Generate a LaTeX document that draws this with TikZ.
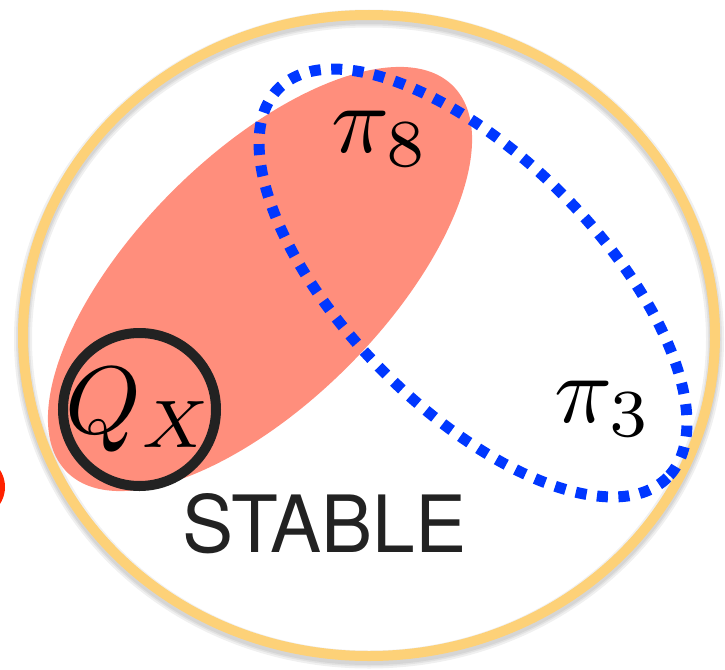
\documentclass[tikz,border=0pt]{standalone}
\usepackage{fontspec}
\newfontfamily\stablefont{TeX Gyre Heros}
\definecolor{ringgold}{RGB}{253,209,120}
\definecolor{setsalmon}{RGB}{255,142,124}
\definecolor{setblue}{RGB}{0,55,255}
\definecolor{inkgray}{RGB}{34,34,34}
\definecolor{dotred}{RGB}{255,34,0}
\tikzstyle{ring} = [draw=ringgold, line width=10pt]
\tikzstyle{ringshadow} = [draw=black, opacity=0.06]
\tikzstyle{redset} = [fill=setsalmon]
\tikzstyle{blueset} = [draw=setblue, line width=11pt, dash pattern=on 11pt off 10.5pt]
\tikzstyle{qring} = [draw=inkgray, line width=10pt]
\tikzstyle{mathtag} = [inner sep=0pt, anchor=base west, scale=9.6]

\begin{document}
\begin{tikzpicture}[x=1pt, y=-1pt]
    \useasboundingbox (0,0) rectangle (725,669);
    % outer set with soft shadow
    \foreach \w in {18,14,11}
        \draw[ringshadow, line width=\w pt] (369,339) ellipse [x radius=346, y radius=320.5];
    \draw[ring] (369,335.5) ellipse [x radius=346, y radius=320.5];
    % the two sets
    \fill[redset, shift={(260,279)}, rotate=45] (0,0) ellipse [x radius=273, y radius=124];
    \draw[blueset, shift={(473,283)}, rotate=-45] (0,0) ellipse [x radius=275, y radius=126];
    \draw[qring] (139.5,409.5) circle [radius=76.5];
    % labels
    \node[mathtag] (pi8) at (330,152) {$\pi_8$};
    \node[mathtag] (pi3) at (553,422) {$\pi_3$};
    \node[mathtag] (qx) at (64,433) {$Q_X$};
    \node[inner sep=0pt, anchor=base west, text=inkgray, xscale=0.97,
      font=\fontsize{79}{79}\stablefont] (stable) at (182,552) {STABLE};
    % cut-off dot at the left edge
    \fill[dotred] (-26,487) circle [radius=31];
\end{tikzpicture}
\end{document}
